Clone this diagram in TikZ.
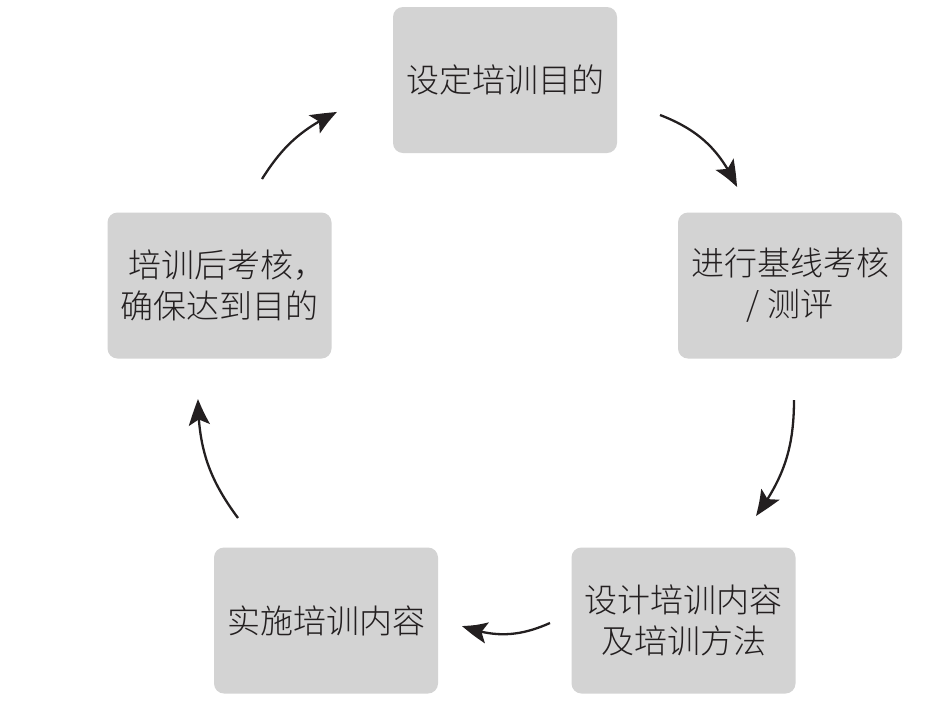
\documentclass[tikz,border=0pt]{standalone}
\usepackage{fontspec}
\IfFontExistsTF{Noto Sans CJK SC Light}
  {\setmainfont{Noto Sans CJK SC Light}\def\stagetextcolor{231F20}}
  {\setmainfont{Noto Sans CJK SC}\def\stagetextcolor{3A3A3A}}
\usetikzlibrary{arrows.meta,bending}
\definecolor{boxgray}{HTML}{D3D3D3}
\definecolor{textgray}{HTML}{\stagetextcolor}
\definecolor{arrowblack}{HTML}{231F20}
\begin{document}
\begin{tikzpicture}[x=1pt,y=-1pt,
  stage/.style={fill=boxgray, rounded corners=10pt, minimum width=224pt, minimum height=146pt,
    align=center, font=\fontsize{33}{41}\selectfont, text=textgray, inner sep=0pt},
  flow/.style={line width=2.3pt, draw=arrowblack,
    -{Stealth[length=27pt,width=21pt,inset=6pt,bend]}}]
\useasboundingbox (0,0) rectangle (939,713);

\node[stage] (s1) at (505,80)    {设定培训目的};
\node[stage] (s2) at (790,285.5) {进行基线考核\\/ 测评};
\node[stage] (s3) at (683.5,620.5) {设计培训内容\\及培训方法};
\node[stage] (s4) at (326,620.5) {实施培训内容};
\node[stage] (s5) at (219.5,285.5) {培训后考核\makebox[0.5em][l]{，}\\确保达到目的};

\coordinate (a1s) at (660,115);
\coordinate (a1e) at (737,187);
\coordinate (a2s) at (794,400);
\coordinate (a2e) at (756,516);
\coordinate (a3s) at (550,623);
\coordinate (a3e) at (462,626);
\coordinate (a4s) at (238,518);
\coordinate (a4e) at (198,399);
\coordinate (a5s) at (262,179);
\coordinate (a5e) at (337,112);

\draw[flow] (a1s) to[bend left=22] (a1e);
\draw[flow] (a2s) to[bend left=18] (a2e);
\draw[flow] (a3s) to[bend left=22] (a3e);
\draw[flow] (a4s) to[bend left=18] (a4e);
\draw[flow] (a5s) to[bend left=16] (a5e);
\end{tikzpicture}
\end{document}
